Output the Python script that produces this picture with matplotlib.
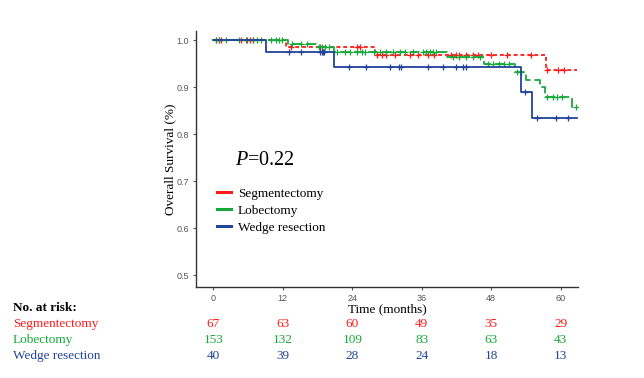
import numpy as np
import matplotlib
matplotlib.use("Agg")
import matplotlib.pyplot as plt
from matplotlib.lines import Line2D
from matplotlib.transforms import blended_transform_factory

# ---------------- data ----------------
groups = ["Segmentectomy", "Lobectomy", "Wedge resection"]
colors = ["#FF1A1A", "#17A83A", "#21439A"]

seg_times = [0, 12.6, 28.0, 57.4]
seg_surv = [1.0, 0.985, 0.968, 0.937]
seg_censor = [0.5, 0.9, 1.3, 4.8, 5.8, 6.4, 6.8, 13.4, 18.5, 24.8, 25.4,
              28.3, 29.1, 29.9, 31.4, 33.9, 35.4, 37.1, 38.2, 41.1, 42.0,
              42.5, 43.7, 44.8, 45.7, 48.0, 50.8, 54.9, 57.7, 59.6, 60.6]

lob_times = [0, 12.9, 17.8, 20.8, 40.3, 46.8, 52.2, 54.0, 56.4, 57.3, 62.0]
lob_surv = [1.0, 0.992, 0.987, 0.976, 0.964, 0.950, 0.933, 0.915, 0.900, 0.879, 0.858]
lob_censor = [0.46, 1.0, 2.2, 4.5, 5.6, 6.8, 7.6, 8.2, 9.9, 10.8, 11.3, 11.9,
              13.6, 15.1, 16.2, 18.2, 18.8, 19.3, 19.9, 21.4, 22.8, 23.6, 24.8,
              25.7, 26.2, 27.7, 28.8, 29.9, 31.1, 32.2, 33.1, 34.5, 36.2, 36.8,
              37.4, 38.0, 38.5, 41.4, 42.5, 43.7, 44.8, 46.0, 47.4, 48.3, 49.4,
              50.3, 51.1, 52.5, 53.1, 57.7, 58.6, 59.4, 60.3, 62.6]

wed_times = [0, 9.1, 20.9, 53.2, 55.0]
wed_surv = [1.0, 0.975, 0.943, 0.891, 0.835]
wed_censor = [13.1, 15.1, 18.4, 18.7, 19.0, 19.2, 23.5, 26.4, 30.6, 32.1, 32.5,
              37.1, 39.7, 41.9, 43.1, 43.6, 53.8, 55.9, 59.2, 61.3]

end_time = 62.8
risk_times = [0, 12, 24, 36, 48, 60]
seg_risk = [67, 63, 60, 49, 35, 29]
lob_risk = [153, 132, 109, 83, 63, 43]
wed_risk = [40, 39, 28, 24, 18, 13]
p_text = "$P$=0.22"

# ---------------- figure ----------------
plt.rcParams["mathtext.fontset"] = "custom"
plt.rcParams["mathtext.it"] = "Liberation Serif:italic"
plt.rcParams["mathtext.rm"] = "Liberation Serif"

W, H = 644, 378
fig = plt.figure(figsize=(W / 100, H / 100), dpi=100)
ax = fig.add_axes([196 / W, 1 - 287 / H, (578 - 196) / W, (287 - 31) / H])

serif = "Liberation Serif"
sans = "Liberation Sans"
FS = 9.5

styles = [dict(dashes=(2.2, 1.6)), dict(dashes=(5.5, 2.2)), dict(linestyle="-")]
data = [(seg_times, seg_surv, seg_censor),
        (lob_times, lob_surv, lob_censor),
        (wed_times, wed_surv, wed_censor)]

for (t, s, c), col, st in zip(data, colors, styles):
    tt = list(t) + [end_time]
    ss = list(s) + [s[-1]]
    ax.step(tt, ss, where="post", color=col, lw=1.3, **st)
    c = np.asarray(c)
    idx = np.searchsorted(np.asarray(t), c, side="right") - 1
    cy = np.asarray(s)[idx]
    ax.plot(c, cy, linestyle="none", marker="+", color=col, ms=5, mew=0.9)

ax.set_xlim(-3, 63)
ax.set_ylim(0.4755, 1.02)
ax.set_xticks(risk_times)
ax.set_yticks([0.5, 0.6, 0.7, 0.8, 0.9, 1.0])
ax.set_yticklabels(["0.5", "0.6", "0.7", "0.8", "0.9", "1.0"])
for sp in ["top", "right"]:
    ax.spines[sp].set_visible(False)
for sp in ["left", "bottom"]:
    ax.spines[sp].set_color("#333333")
    ax.spines[sp].set_linewidth(1.0)
ax.tick_params(axis="both", length=2.5, width=0.8, color="#555555",
               labelcolor="#555555", labelsize=6.5, pad=2.5)
for lab in ax.get_xticklabels() + ax.get_yticklabels():
    lab.set_fontfamily(sans)

ax.set_ylabel("Overall Survival (%)", fontfamily=serif, fontsize=FS)
ax.yaxis.set_label_coords(170 / W, 1 - 159 / H, transform=fig.transFigure)
ax.yaxis.label.set_va("center")
ax.set_xlabel("Time (months)", fontfamily=serif, fontsize=FS)
ax.xaxis.set_label_coords(387 / W, 1 - 309 / H, transform=fig.transFigure)
ax.xaxis.label.set_va("center")

# P value
ax.text(235 / W, 1 - 160.7 / H, p_text, transform=fig.transFigure, fontfamily=serif,
        fontsize=14.5, va="center", ha="left")

# legend
handles = [Line2D([], [], color=c, lw=2.2) for c in colors]
leg = ax.legend(handles, groups, loc="upper left",
                bbox_to_anchor=(216.7 / W, 1 - 187.5 / H), bbox_transform=fig.transFigure,
                frameon=False, borderpad=0, borderaxespad=0, handlelength=1.1,
                handletextpad=0.5, labelspacing=0.36,
                prop=dict(family=serif, size=FS))

# risk table
fig.text(12.7 / W, 1 - 308.3 / H, "No. at risk:", fontfamily=serif, fontsize=FS,
         fontweight="bold", va="center", ha="left")
trans = blended_transform_factory(ax.transData, fig.transFigure)
rows_y = [324.3, 340.0, 355.7]
for g, col, vals, y in zip(groups, colors, [seg_risk, lob_risk, wed_risk], rows_y):
    fig.text(12.7 / W, 1 - y / H, g, fontfamily=serif, fontsize=FS, color=col,
             va="center", ha="left")
    for tm, v in zip(risk_times, vals):
        ax.text(tm, 1 - y / H, str(v), transform=trans, fontfamily=serif, fontsize=FS,
                color=col, va="center", ha="center", clip_on=False)

fig.savefig("out.png", dpi=100)
